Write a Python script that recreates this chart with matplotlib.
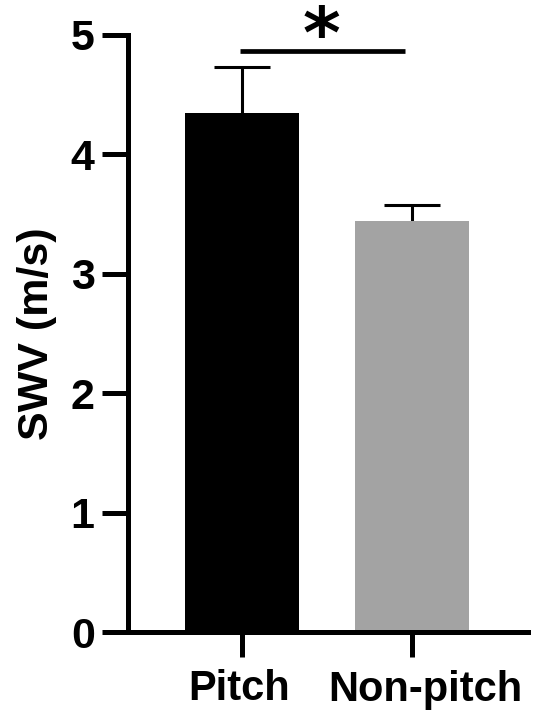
import matplotlib
matplotlib.use("Agg")
import matplotlib.pyplot as plt
import matplotlib.transforms as mtransforms
import numpy as np

groups = ["Pitch", "Non-pitch"]
means = [4.35, 3.44]
errs = [0.38, 0.14]
colors = ["#000000", "#a3a3a3"]
sig_label = "*"

plt.rcParams["font.family"] = ["Liberation Sans", "DejaVu Sans"]
plt.rcParams["font.weight"] = "bold"

fig = plt.figure(figsize=(5.5, 7.23), dpi=100)
ax = fig.add_axes([128 / 550, 1 - 632 / 723, 400 / 550, 597 / 723])

x = np.arange(len(groups))
ax.bar(x, means, width=0.67, color=colors, zorder=2)

# upper error bars only (SD), like the prism style
tops = np.array(means) + np.array(errs)
ax.vlines(x, means, tops, color="black", lw=2.2, zorder=1)
ax.hlines(tops, x - 0.165, x + 0.165, color="black", lw=2.2, zorder=1)

# significance bar
ax.plot([-0.01, 0.96], [4.87, 4.87], color="black", lw=3.4, clip_on=False,
        solid_capstyle="butt")
ax.text(0.47, 4.81, sig_label, ha="center", va="baseline", fontsize=52,
        fontweight="bold", family="DejaVu Sans")

ax.set_xlim(-0.668, 1.685)
ax.set_ylim(0, 5)
ax.set_yticks([0, 1, 2, 3, 4, 5])
ax.set_xticks(x)
ax.set_xticklabels(groups)
ax.set_ylabel("SWV (m/s)", fontsize=31, fontweight="bold", labelpad=10)

for s in ["top", "right"]:
    ax.spines[s].set_visible(False)
for s in ["left", "bottom"]:
    ax.spines[s].set_linewidth(3.6)
ax.tick_params(axis="y", length=19, width=3.6, labelsize=31, pad=5)
ax.tick_params(axis="x", length=18, width=3.6, labelsize=30, pad=9)
for lab in ax.get_xticklabels() + ax.get_yticklabels():
    lab.set_fontweight("bold")

# labels are not exactly centred under the ticks in the original
shifts = [-2, 14]
for lab, dx in zip(ax.get_xticklabels(), shifts):
    lab.set_transform(lab.get_transform() +
                      mtransforms.ScaledTranslation(dx / 100, 0, fig.dpi_scale_trans))

fig.savefig("out.png", dpi=100)
